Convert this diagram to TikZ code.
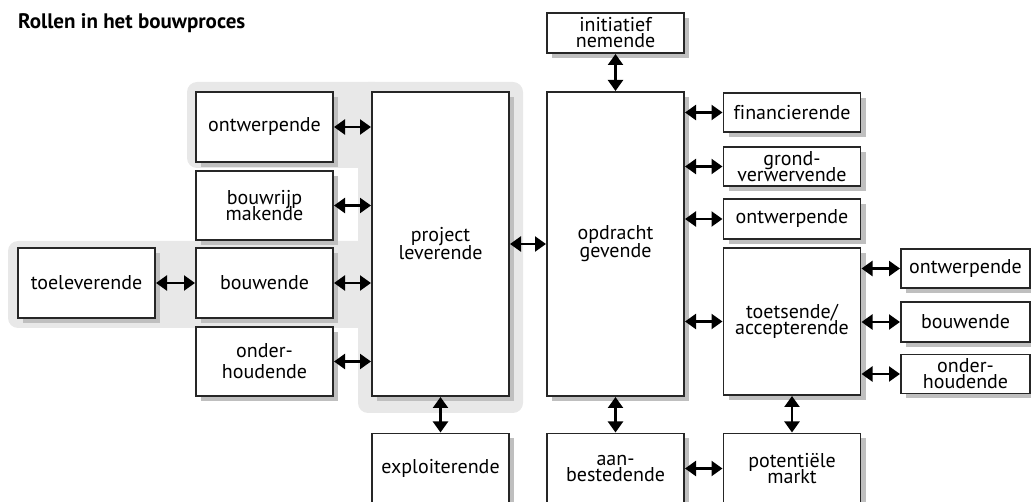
\documentclass[tikz,border=0pt]{standalone}
\usepackage{fontspec}
\setmainfont{PT Sans}[Ligatures=NoCommon]
\usetikzlibrary{arrows.meta,shadows}

% text of the role boxes: tight leading, forced even between lines with descenders
\newcommand\rolefont{\fontsize{20}{16}\selectfont\lineskiplimit=-50pt\relax}

\begin{document}
\begin{tikzpicture}[x=1pt,y=-1pt,
  hl/.style={fill=black!9, rounded corners=10pt},
  role/.style={draw=black!85, line width=1.1pt, fill=white,
    inner sep=0pt, outer sep=0pt, align=center, font=\rolefont,
    minimum width=137pt,
    drop shadow={shadow xshift=5pt, shadow yshift=-5pt, fill=black!25, opacity=1}},
  narrow/.style={role, minimum width=129pt},
  link/.style={{Triangle[length=11pt,width=15pt]}-{Triangle[length=11pt,width=15pt]},
    line width=2.3pt, shorten <=1pt, shorten >=1pt}]

\useasboundingbox (0,0) rectangle (1031,502);

% title
\node[anchor=base west, inner sep=0pt, font=\bfseries\fontsize{21}{24}\selectfont]
  (title) at (18,29) {Rollen in het bouwproces};

% grey groupings behind the supplying side
\fill[hl] (187,82) rectangle (385,168);
\fill[hl] (8,241) rectangle (385,328);
\fill[hl] (358,82) rectangle (523,413);

% supplying side
\node[role, minimum height=70pt] (ontL)    at (264.5,127)   {ontwerpende};
\node[role, minimum height=69pt] (bouwrijp) at (264.5,205.5) {bouwrijp\\makende};
\node[role, minimum height=70pt] (bouwL)   at (264.5,283)   {bouwende};
\node[role, minimum height=69pt] (onderL)  at (264.5,361.5) {onder-\\[5pt]houdende};
\node[role, minimum height=70pt] (toelev)  at (86.5,283)    {toeleverende};
\node[role, minimum height=304pt] (project) at (440.5,244)  {project\\[2pt]leverende};
\node[role, minimum height=70pt] (exploit) at (440.5,468.5) {exploiterende};

% commissioning side
\node[role, minimum height=304pt] (opdracht) at (615.5,244) {opdracht\\[2pt]gevende};
\node[role, minimum height=40pt] (initiatief) at (615.5,33)  {initiatief\\nemende};
\node[role, minimum height=70pt] (aanbest)  at (615.5,468.5) {aan-\\bestedende};

\node[role, minimum height=39pt] (financ) at (792,112.5) {financierende};
\node[role, minimum height=39pt] (grond)  at (792,166.5) {grond-\\verwervende};
\node[role, minimum height=40pt] (ontR)   at (792,219)   {ontwerpende};
\node[role, minimum height=147pt] (toets) at (792,321.5) {toetsende/\\accepterende};
\node[role, minimum height=70pt] (potent) at (792,468.5) {potenti\"ele\\markt};

\node[narrow, minimum height=39pt] (ontRR)   at (965.5,268.5) {ontwerpende};
\node[narrow, minimum height=40pt] (bouwRR)  at (965.5,322)   {bouwende};
\node[narrow, minimum height=39pt] (onderRR) at (965.5,374)   {onder-\\houdende};

% relations
\draw[link] (ontL.east)     -- (project.west |- ontL);
\draw[link] (bouwrijp.east) -- (project.west |- bouwrijp);
\draw[link] (bouwL.east)    -- (project.west |- bouwL);
\draw[link] (onderL.east)   -- (project.west |- onderL);
\draw[link] (toelev.east)   -- (bouwL.west);
\draw[link] (project.east)  -- (opdracht.west);
\draw[link] (project.south) -- (exploit.north);

\draw[link] (initiatief.south) -- (opdracht.north);
\draw[link] (opdracht.south)   -- (aanbest.north);
\draw[link] (opdracht.east |- financ) -- (financ.west);
\draw[link] (opdracht.east |- grond)  -- (grond.west);
\draw[link] (opdracht.east |- ontR)   -- (ontR.west);
\draw[link] (opdracht.east |- toets)  -- (toets.west);

\draw[link] (toets.east |- ontRR)   -- (ontRR.west);
\draw[link] (toets.east |- bouwRR)  -- (bouwRR.west);
\draw[link] (toets.east |- onderRR) -- (onderRR.west);
\draw[link] (toets.south)  -- (potent.north);
\draw[link] (aanbest.east) -- (potent.west);
\end{tikzpicture}
\end{document}
